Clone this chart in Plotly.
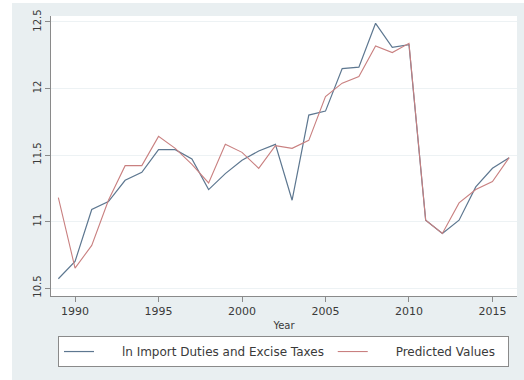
import plotly.graph_objects as go

# Data
years = list(range(1989, 2017))

ln_import_duties = [10.57, 10.70, 11.09, 11.15, 11.31, 11.37, 11.54, 11.54, 11.47, 11.24,
                    11.36, 11.46, 11.53, 11.58, 11.16, 11.80, 11.83, 12.15, 12.16, 12.49,
                    12.31, 12.33, 11.01, 10.91, 11.01, 11.26, 11.40, 11.48]

predicted = [11.18, 10.65, 10.82, 11.16, 11.42, 11.42, 11.64, 11.55, 11.43, 11.29,
             11.58, 11.52, 11.40, 11.57, 11.55, 11.61, 11.94, 12.04, 12.09, 12.32,
             12.27, 12.34, 11.01, 10.91, 11.14, 11.24, 11.30, 11.48]

y_ticks = [10.5, 11, 11.5, 12, 12.5]
y_tick_text = ["10.5", "11", "11.5", "12", "12.5"]
x_ticks = [1990, 1995, 2000, 2005, 2010, 2015]

font = "DejaVu Sans, Verdana, sans-serif"
bg = "#e9eff1"
pad = "\u00a0"

fig = go.Figure()
fig.add_trace(go.Scatter(x=years, y=ln_import_duties, mode="lines",
                         name=pad * 6 + "ln Import Duties and Excise Taxes" + pad,
                         line=dict(color="#5d7790", width=1.2)))
fig.add_trace(go.Scatter(x=years, y=predicted, mode="lines",
                         name=pad * 6 + "Predicted Values" + pad * 2,
                         line=dict(color="#c98080", width=1.1)))

fig.update_layout(
    width=524, height=380,
    margin=dict(l=51, r=7, t=16, b=84, autoexpand=False),
    paper_bgcolor=bg,
    plot_bgcolor="white",
    font=dict(family=font, size=11, color="#3a3a3a"),
    showlegend=True,
    legend=dict(orientation="h", x=0.015, y=-0.143, xanchor="left", yanchor="top",
                bgcolor="white", bordercolor="#8a8a8a", borderwidth=1,
                font=dict(size=12, color="#3a3a3a"), tracegroupgap=0),
    xaxis=dict(range=[1988.56, 2016.47], tickvals=x_ticks, showgrid=False,
               showline=True, linecolor="#8a8a8a", linewidth=1,
               ticks="outside", ticklen=5, tickcolor="#8a8a8a",
               title=dict(text="Year", standoff=4, font=dict(size=10)),
               zeroline=False, automargin=False),
    yaxis=dict(range=[10.44, 12.545], tickvals=y_ticks, ticktext=y_tick_text,
               tickangle=-90, showgrid=True, gridcolor="#edf2f4", gridwidth=1,
               showline=True, linecolor="#8a8a8a", linewidth=1,
               ticks="outside", ticklen=5, tickcolor="#8a8a8a",
               tickfont=dict(size=10),
               zeroline=False, automargin=False),
    shapes=[dict(type="rect", xref="paper", yref="paper",
                 x0=-51 / 466, x1=-39 / 466, y0=-84 / 280, y1=1 + 16 / 280,
                 fillcolor="white", line=dict(width=0), layer="below"),
            dict(type="rect", xref="paper", yref="paper",
                 x0=-51 / 466, x1=1 + 7 / 466, y0=1 + 13 / 280, y1=1 + 16 / 280,
                 fillcolor="white", line=dict(width=0), layer="below")],
)

fig.write_html("out.html", config={"displayModeBar": False},
               post_script="document.body.style.margin='0px';")
